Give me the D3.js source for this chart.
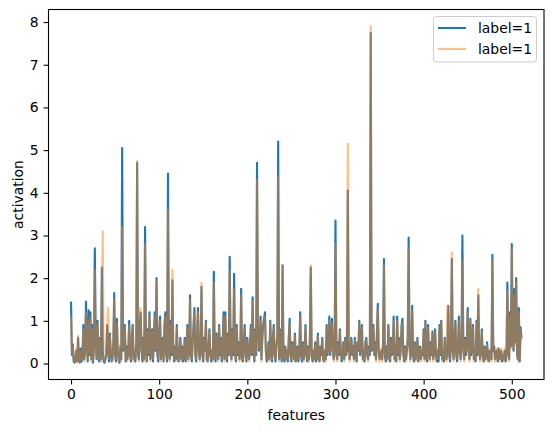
<!DOCTYPE html>
<html><head><meta charset="utf-8">
<script src="https://cdn.jsdelivr.net/npm/d3@7"></script>
<style>body{margin:0;background:#fff}text{font-family:"DejaVu Sans",sans-serif}</style>
</head><body><svg id="c" width="554" height="432"></svg>
<script>
const seriesName = ["label=1","label=1"];
const xTicks = [0,100,200,300,400,500];
const yTicks = [0,1,2,3,4,5,6,7,8];
const blue = [
1.45,0.2,0.45,0.05,0.02,0.1,0.3,0.05,0.6,0.1,0.02,0.35,0.05,0.2,0.9,0.1,0.3,1.45,0.4,0.05,1.25,0.2,1.2,0.1,0.9,0.02,0.4,2.7,0.5,0.1,1.0,0.3,
0.05,0.6,0.1,2.25,0.3,0.05,0.02,0.1,0.2,0.9,0.4,0.05,0.7,0.3,0.05,0.1,0.5,1.65,0.2,0.05,1.05,0.3,0.1,0.02,0.4,0.1,5.05,0.3,0.6,0.9,0.05,0.4,
0.1,0.3,1.0,0.2,0.05,0.6,0.9,0.1,0.3,0.05,0.5,4.7,0.2,0.1,0.9,1.2,0.3,0.05,0.6,0.1,3.2,0.4,0.05,0.8,0.2,1.2,0.1,0.3,0.8,0.05,0.6,1.2,
0.3,2.0,0.2,0.05,0.7,1.1,0.1,0.3,0.6,0.05,0.9,1.2,0.2,0.05,4.45,0.3,0.1,1.0,0.2,1.95,0.3,0.05,0.4,0.1,0.9,0.2,0.05,0.3,0.6,0.1,0.4,0.05,
0.2,0.6,0.05,0.4,0.9,0.1,0.3,1.6,0.2,0.05,0.5,0.9,1.3,0.2,0.05,0.6,1.3,0.3,0.1,0.4,1.8,0.2,0.05,0.6,0.3,1.0,0.1,0.05,0.4,0.8,0.2,0.05,
0.3,0.1,2.15,0.2,0.05,0.7,0.3,0.1,0.9,0.2,0.6,0.05,0.4,1.2,0.1,1.2,0.3,0.05,0.7,0.2,2.5,0.4,0.1,0.8,0.2,2.1,0.3,0.05,0.9,0.2,0.5,0.1,
0.2,1.75,0.1,0.05,0.5,0.9,0.2,0.05,0.6,0.3,0.1,0.4,0.9,0.2,1.55,0.3,0.05,0.8,0.2,4.7,0.9,0.3,0.4,1.1,0.1,0.6,0.9,1.05,1.2,0.3,0.05,0.2,
0.5,0.1,1.0,0.3,0.05,0.6,0.9,0.2,0.05,0.4,0.6,5.2,0.1,0.8,0.3,0.05,2.3,0.2,0.05,0.4,0.1,0.3,0.05,0.6,1.05,0.2,0.05,0.5,0.3,0.1,0.7,0.05,
0.1,0.4,0.05,0.3,1.2,0.2,0.05,0.5,0.1,0.3,0.9,0.2,0.05,0.4,0.1,0.6,2.25,0.2,0.05,0.3,0.1,0.5,0.05,0.2,0.7,0.1,0.05,0.4,0.2,0.6,0.1,0.05,
0.3,0.1,0.9,0.2,0.4,1.1,0.2,0.6,1.05,0.3,0.1,0.2,3.35,0.4,0.1,0.5,0.2,0.8,0.3,0.05,0.2,0.5,0.1,0.6,0.2,0.3,4.05,0.5,0.1,0.3,0.6,0.2,
0.4,0.1,0.6,0.2,0.05,0.5,0.3,1.0,0.2,0.4,0.9,0.1,0.3,0.05,0.5,0.6,0.2,0.1,0.4,0.2,7.75,0.3,0.4,0.9,0.2,0.5,0.1,0.7,1.4,0.3,0.1,0.2,
0.3,0.1,0.5,2.45,0.2,0.05,0.4,0.1,0.9,0.3,0.05,0.6,0.2,0.3,1.1,0.1,0.4,0.05,1.1,0.2,0.6,0.1,0.3,0.9,1.05,0.2,0.05,0.4,0.1,0.3,0.6,2.95,
0.4,0.1,0.3,1.35,0.2,0.05,0.5,0.1,0.3,0.6,0.05,0.2,0.4,0.1,0.3,0.2,0.8,0.1,1.0,0.2,0.05,0.9,0.3,0.1,0.5,0.2,0.75,0.1,0.3,0.8,0.2,0.05,
0.3,0.05,0.9,0.2,1.0,0.1,0.3,0.05,0.6,0.2,0.1,0.4,1.35,0.2,0.05,0.5,2.45,0.3,0.1,0.6,1.0,0.2,0.05,0.4,1.1,0.3,0.1,0.5,3.0,0.4,0.1,0.6,
0.2,0.5,1.3,0.3,0.1,1.05,0.2,0.4,0.9,0.1,0.3,0.05,1.0,0.2,1.6,0.4,0.1,0.3,0.8,0.2,0.05,0.4,0.1,0.2,0.5,0.1,0.05,0.3,0.2,0.1,2.55,0.3,
0.4,0.1,0.2,0.3,0.05,0.35,0.1,0.2,0.3,0.05,0.2,0.1,0.3,0.05,0.2,1.9,0.3,0.1,1.2,0.4,2.8,0.6,0.3,1.75,0.5,2.0,0.2,0.1,1.3,0.05,0.85,0.6];
const orange = [
1.1,0.25,0.4,0.1,0.05,0.15,0.35,0.02,0.65,0.05,0.05,0.3,0.1,0.25,0.8,0.05,0.35,1.2,0.35,0.1,1.0,0.25,1.1,0.05,0.8,0.05,0.35,2.2,0.45,0.15,0.9,0.25,
0.1,0.55,0.05,1.7,3.1,0.1,0.05,0.15,0.25,0.85,1.3,0.1,0.65,0.35,0.1,0.05,0.55,1.5,0.25,0.1,0.95,0.35,0.05,0.05,0.45,0.05,3.2,0.35,0.55,0.85,0.1,0.35,
0.05,0.35,0.9,0.25,0.1,0.55,0.85,0.05,0.35,0.1,0.45,4.75,0.25,0.05,1.3,1.1,0.35,0.1,0.55,0.05,2.8,0.45,0.1,0.75,0.25,1.1,0.05,0.35,0.75,0.1,0.55,1.1,
0.35,1.95,0.25,0.1,0.65,1.0,0.05,0.35,0.55,0.1,0.85,1.1,0.25,0.1,3.6,0.35,0.05,0.9,0.25,2.2,0.35,0.1,0.35,0.05,0.85,0.25,0.1,0.35,0.55,0.05,0.35,0.1,
0.25,0.55,0.1,0.35,0.85,0.05,0.35,1.5,0.25,0.1,0.45,0.85,1.2,0.25,0.1,0.55,1.2,0.35,0.05,0.35,1.9,0.25,0.1,0.55,0.35,0.95,0.05,0.1,0.35,0.75,0.25,0.1,
0.35,0.05,1.9,0.25,0.1,0.65,0.35,0.05,0.85,0.25,0.55,0.1,0.35,1.1,0.05,1.1,0.35,0.1,0.65,0.25,2.2,0.35,0.05,0.75,0.25,1.75,0.35,0.1,0.85,0.25,0.45,0.05,
0.25,1.6,0.05,0.1,0.45,0.85,0.25,0.1,0.55,0.35,0.05,0.35,0.85,0.25,1.45,0.35,0.1,0.75,0.25,4.3,0.85,0.35,0.35,1.0,0.05,0.55,0.85,0.95,1.1,0.35,0.1,0.25,
0.45,0.05,0.95,0.35,0.1,0.55,0.85,0.25,0.1,0.35,0.55,4.4,0.05,0.75,0.35,0.1,2.3,0.25,0.1,0.35,0.05,0.35,0.1,0.55,0.95,0.25,0.1,0.45,0.35,0.05,0.65,0.1,
0.05,0.35,0.1,0.35,1.1,0.25,0.1,0.45,0.05,0.35,0.85,0.25,0.1,0.35,0.05,0.55,2.3,0.25,0.1,0.35,0.05,0.45,0.1,0.25,0.65,0.05,0.1,0.35,0.25,0.55,0.05,0.1,
0.35,0.05,0.85,0.25,0.35,1.0,0.25,0.55,0.95,0.35,0.05,0.25,2.8,0.35,0.05,0.45,0.25,0.75,0.35,0.1,0.25,0.45,0.05,0.55,0.25,1.0,5.15,0.45,0.05,0.35,0.55,0.25,
0.35,0.05,0.55,0.25,0.1,0.45,0.35,0.95,0.25,0.35,0.85,0.05,0.35,0.1,0.45,0.55,0.25,0.05,0.35,0.25,7.9,0.35,0.35,0.85,0.25,0.45,0.05,0.65,1.3,0.35,0.05,0.25,
0.35,0.05,0.45,2.3,0.25,0.1,0.35,0.05,0.85,0.35,0.1,0.55,0.25,0.35,1.0,0.05,0.35,0.1,1.0,0.25,0.55,0.05,0.35,0.85,0.95,0.25,0.1,0.35,0.05,0.35,0.55,2.7,
0.35,0.05,0.35,1.25,0.25,0.1,0.45,0.05,0.35,0.55,0.1,0.25,0.35,0.05,0.35,0.25,0.75,0.05,0.95,0.25,0.1,0.85,0.35,0.05,0.45,0.25,0.7,0.05,0.35,0.75,0.25,0.1,
0.35,0.1,0.85,0.25,0.95,0.05,0.35,0.1,0.55,0.25,0.05,1.35,1.3,0.25,0.1,0.45,2.6,0.35,0.05,0.55,0.95,0.25,0.1,0.35,1.0,0.35,0.05,0.45,2.4,0.35,0.05,0.55,
0.25,0.45,1.2,0.35,0.05,1.0,0.25,0.35,0.85,0.05,0.35,0.1,0.95,0.25,1.75,0.35,0.05,0.35,0.75,0.25,0.1,0.35,0.05,0.25,0.45,0.05,0.1,0.35,0.25,0.05,2.4,0.35,
0.35,0.05,0.25,0.35,0.1,0.3,0.05,0.25,0.35,0.1,0.25,0.05,0.35,0.1,0.25,1.7,0.35,0.05,1.1,0.35,2.7,0.55,0.35,1.6,0.45,1.9,0.25,0.05,1.2,0.1,0.8,0.55];

const svg = d3.select("#c");
const L=48.5,R=544,T=9.5,B=379.5;
const n = blue.length-1;
const x = d3.scaleLinear().domain([-0.05*n, n*1.05]).range([L,R]);
const ymax = d3.max(orange.concat(blue)), ymin = d3.min(orange.concat(blue));
const yr = ymax-ymin;
const y = d3.scaleLinear().domain([ymin-0.05*yr, ymax+0.05*yr]).range([B,T]);
const line = d3.line().x((d,i)=>x(i)).y(d=>y(d));
svg.append("path").datum(blue).attr("d",line).attr("fill","none").attr("stroke","#1f77b4").attr("stroke-width",2.1).attr("stroke-linejoin","round");
svg.append("path").datum(orange).attr("d",line).attr("fill","none").attr("stroke","#ff7f0e").attr("stroke-opacity",0.5).attr("stroke-width",2.1).attr("stroke-linejoin","round");
const xa = svg.append("g").attr("transform",`translate(0,${B})`).call(d3.axisBottom(x).tickValues(xTicks).tickSize(4.9).tickPadding(4.9));
const ya = svg.append("g").attr("transform",`translate(${L},0)`).call(d3.axisLeft(y).tickValues(yTicks).tickSize(4.9).tickPadding(4.9));
[xa,ya].forEach(a=>{a.select(".domain").remove();a.selectAll("text").attr("font-size",13.9).attr("fill","#000").style("font-family","DejaVu Sans");a.selectAll("line").attr("stroke","#000").attr("stroke-width",1.1);});
svg.append("rect").attr("x",L).attr("y",T).attr("width",R-L).attr("height",B-T).attr("fill","none").attr("stroke","#000").attr("stroke-width",1.1);
svg.append("text").attr("x",(L+R)/2).attr("y",420).attr("text-anchor","middle").attr("font-size",13.9).text("features");
svg.append("text").attr("transform",`translate(23,${(T+B)/2}) rotate(-90)`).attr("text-anchor","middle").attr("font-size",13.9).text("activation");
const lg = svg.append("g");
lg.append("rect").attr("x",433.5).attr("y",16.5).attr("width",103).attr("height",45.5).attr("rx",3).attr("fill","#fff").attr("fill-opacity",0.8).attr("stroke","#ccc");
const cols=["#1f77b4","#ff7f0e"], ops=[1,0.5];
seriesName.forEach((s,i)=>{
  const yy=28+i*21;
  lg.append("line").attr("x1",438).attr("x2",466).attr("y1",yy).attr("y2",yy).attr("stroke",cols[i]).attr("stroke-opacity",ops[i]).attr("stroke-width",2.1);
  lg.append("text").attr("x",478).attr("y",yy+5).attr("font-size",13.9).text(s);
});
</script></body></html>
